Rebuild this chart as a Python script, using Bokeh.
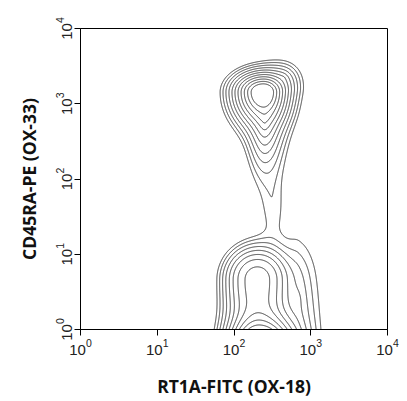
import numpy as np
from bokeh.plotting import figure
from bokeh.models import Range1d, FixedTicker
from bokeh.embed import file_html
from bokeh.resources import INLINE

x_title = "RT1A-FITC (OX-18)"
y_title = "CD45RA-PE (OX-33)"
decade_ticks = [1, 10, 100, 1000, 10000]

# Cell populations, in decades (log10 of fluorescence): centre, spreads, height, core
pop_u      = [2.38, 2.40, 2.50, 2.65, 2.30, 2.85, 2.33]
pop_v      = [3.155, 2.80, 1.60, 3.35, 0.67, 0.40, -0.30]
pop_left   = [0.115, 0.09, 0.07, 0.12, 0.1025, 0.12, 0.10]
pop_right  = [0.097, 0.10, 0.07, 0.12, 0.1025, 0.20, 0.12]
pop_down   = [0.13, 0.30, 0.20, 0.12, 0.20, 0.50, 0.125]
pop_up     = [0.08, 0.12, 0.20, 0.12, 0.107, 0.60, 0.125]
pop_height = [3.37, 0.50, 0.030, 0.12, 0.35, 0.10, 10.8]
pop_core   = [0.0, 0.0, 1.5, 0.0, 2.55, 0.0, 0.0]

contour_levels = [0.026, 0.036, 0.050, 0.070, 0.098, 0.136, 0.189,
                  0.262, 0.365, 0.507, 0.705]

u = np.linspace(0.0, 4.0, 801)
v = np.linspace(-0.02, 4.0, 805)
U, V = np.meshgrid(u, v)
Z = np.zeros_like(U)
for u0, v0, sl, sr, sd, su, h, c in zip(pop_u, pop_v, pop_left, pop_right,
                                        pop_down, pop_up, pop_height, pop_core):
    du = U - u0
    dv = V - v0
    su_ = np.where(du < 0, sl, sr)
    sv_ = np.where(dv < 0, sd, su)
    r = np.sqrt((du / su_) ** 2 + (dv / sv_) ** 2)
    Z += h / (1.0 + np.exp(r - c))

p = figure(width=400, height=400, x_axis_type="log", y_axis_type="log",
           x_range=Range1d(1, 10000), y_range=Range1d(1, 10000),
           output_backend="svg", toolbar_location=None,
           min_border_left=80, min_border_right=13,
           min_border_top=28, min_border_bottom=67)

p.contour(x=10 ** u, y=10 ** v, z=Z, levels=contour_levels,
          line_color="#383838", line_width=1.0)

p.grid.visible = False
p.outline_line_color = "black"
p.outline_line_width = 1
p.background_fill_color = "white"
p.border_fill_color = "white"

for ax in (p.xaxis[0], p.yaxis[0]):
    ax.ticker = FixedTicker(ticks=decade_ticks, minor_ticks=[])
    ax.axis_line_color = "black"
    ax.major_tick_line_color = "black"
    ax.major_tick_out = 6
    ax.major_tick_in = 0
    ax.minor_tick_line_color = None
    ax.major_label_text_font = "Liberation Sans"
    ax.major_label_text_font_size = "15px"
    ax.major_label_text_color = "#222222"
    ax.major_label_standoff = 3
    ax.axis_label_text_font = "Open Sans"
    ax.axis_label_text_font_style = "bold"
    ax.axis_label_text_font_size = "17.5px"
    ax.axis_label_text_color = "#111111"

p.xaxis.axis_label = x_title
p.yaxis.axis_label = y_title
p.yaxis.major_label_orientation = "vertical"
p.xaxis.axis_label_standoff = 16
p.yaxis.axis_label_standoff = 12

open("out.html", "w").write(file_html(p, INLINE))
